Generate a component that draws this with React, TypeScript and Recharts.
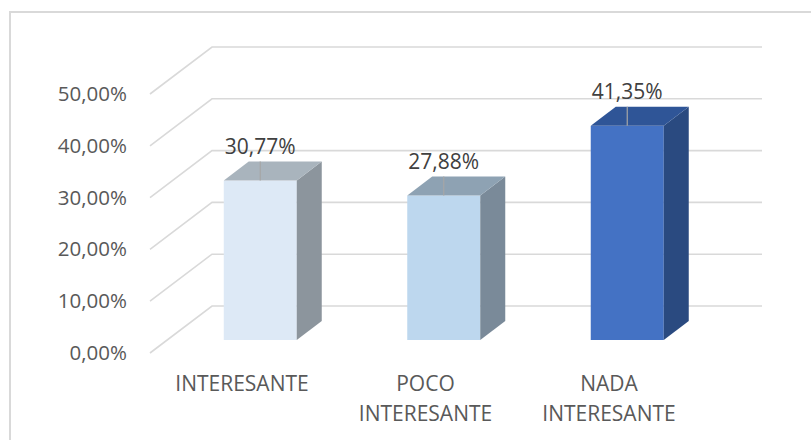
import { Bar, BarChart, CartesianGrid, LabelList, XAxis, YAxis } from "recharts";

const categories = ["INTERESANTE", "POCO INTERESANTE", "NADA INTERESANTE"];
const shares = [0.3077, 0.2788, 0.4135];
const yTicks = [0, 0.1, 0.2, 0.3, 0.4, 0.5];

const chartData = categories.map((name, i) => ({ name, share: shares[i] }));

// front / top / side shading for each bar
const faces = [
  { front: "#dde9f6", top: "#a9b4bd", side: "#8c959d" },
  { front: "#bdd7ee", top: "#8ea2b3", side: "#7a8a99" },
  { front: "#4472c4", top: "#2f5597", side: "#2a4a80" },
];

// oblique depth of a bar, and of the floor/back wall
const DEPTH_X = 25;
const DEPTH_Y = 19;
const FLOOR_FRONT_X = 150;
const WALL_X = 212;
const WALL_END_X = 762;
const FRONT_DY = 13;
const BACK_DY = -34;

const FONT = "'Open Sans', sans-serif";

function pct(v: number): string {
  return (v * 100).toFixed(2).replace(".", ",") + "%";
}

// eslint-disable-next-line @typescript-eslint/no-explicit-any
function Bar3D(props: any) {
  const { x, y, width, height, index } = props;
  const c = faces[index % faces.length];
  const r = x + width;
  const b = y + height;
  return (
    <g>
      <rect x={x} y={y} width={width} height={height} fill={c.front} />
      <polygon
        points={`${r},${y} ${r + DEPTH_X},${y - DEPTH_Y} ${r + DEPTH_X},${b - DEPTH_Y} ${r},${b}`}
        fill={c.side}
      />
      <polygon
        points={`${x},${y} ${x + DEPTH_X},${y - DEPTH_Y} ${r + DEPTH_X},${y - DEPTH_Y} ${r},${y}`}
        fill={c.top}
      />
    </g>
  );
}

// eslint-disable-next-line @typescript-eslint/no-explicit-any
function ValueLabel(props: any) {
  const { x, y, width, value } = props;
  const cx = x + width / 2;
  return (
    <g>
      <line x1={cx} y1={y - DEPTH_Y} x2={cx} y2={y} stroke="#a6a6a6" strokeWidth={1.2} />
      <text
        x={cx}
        y={y - DEPTH_Y - 16}
        textAnchor="middle"
        dominantBaseline="central"
        fill="#404040"
        fontSize={21}
        fontFamily={FONT}
      >
        {pct(Number(value))}
      </text>
    </g>
  );
}

// eslint-disable-next-line @typescript-eslint/no-explicit-any
function GridLine(props: any) {
  const { y1, index } = props;
  return (
    <g key={`grid-${index}`}>
      <polyline
        points={`${FLOOR_FRONT_X},${y1 + FRONT_DY} ${WALL_X},${y1 + BACK_DY} ${WALL_END_X},${y1 + BACK_DY}`}
        fill="none"
        stroke="#d9d9d9"
        strokeWidth={1.6}
      />
    </g>
  );
}

// eslint-disable-next-line @typescript-eslint/no-explicit-any
function YTick(props: any) {
  const { y, payload } = props;
  return (
    <text
      x={127}
      y={y + 12}
      textAnchor="end"
      dominantBaseline="central"
      fill="#595959"
      fontSize={20.5}
      fontFamily={FONT}
    >
      {pct(payload.value)}
    </text>
  );
}

// eslint-disable-next-line @typescript-eslint/no-explicit-any
function XTick(props: any) {
  const { x, y, payload } = props;
  const lines = String(payload.value).split(" ");
  return (
    <text
      x={x - 18.5}
      y={y}
      textAnchor="middle"
      fill="#595959"
      fontSize={21}
      fontFamily={FONT}
    >
      {lines.map((line, i) => (
        <tspan key={i} x={x - 18.5} y={y + 51 + i * 30}>
          {line}
        </tspan>
      ))}
    </text>
  );
}

export default function App() {
  return (
    <div
      style={{
        position: "absolute",
        left: 0,
        top: 0,
        width: 811,
        height: 440,
        background: "#fff",
        overflow: "hidden",
      }}
    >
      <div
        style={{
          position: "absolute",
          left: 9,
          top: 11,
          width: 820,
          height: 450,
          borderTop: "2px solid #d9d9d9",
          borderLeft: "2px solid #d9d9d9",
        }}
      />
      <BarChart
        width={811}
        height={440}
        data={chartData}
        margin={{ top: 81, right: 91.75, bottom: 0, left: 0 }}
        style={{ position: "absolute", left: 0, top: 0 }}
      >
        <CartesianGrid vertical={false} horizontal={GridLine} />
        <XAxis
          dataKey="name"
          height={100}
          interval={0}
          axisLine={false}
          tickLine={false}
          tickSize={0}
          tickMargin={0}
          tick={<XTick />}
        />
        <YAxis
          domain={[0, 0.5]}
          ticks={yTicks}
          width={168.75}
          axisLine={false}
          tickLine={false}
          tickSize={0}
          tickMargin={0}
          tick={<YTick />}
        />
        <Bar dataKey="share" barSize={73} shape={<Bar3D />} isAnimationActive={false}>
          <LabelList dataKey="share" content={<ValueLabel />} />
        </Bar>
      </BarChart>
    </div>
  );
}
